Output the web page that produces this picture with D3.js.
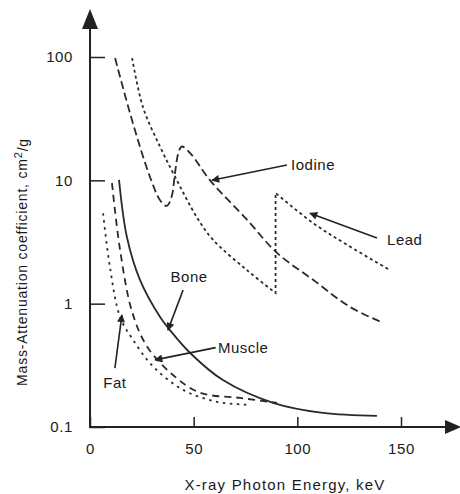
<!DOCTYPE html>
<html>
<head>
<meta charset="utf-8">
<script src="https://cdn.jsdelivr.net/npm/d3@7"></script>
<style>
  body { margin: 0; background: #fff; }
  svg text { font-family: "Liberation Sans", Arial, sans-serif; fill: #1a1a1a; }
</style>
</head>
<body>
<div id="chart"></div>
<script>
// tick values on both axes
const xTicks = [0, 50, 100, 150];
const yTicks = [0.1, 1, 10, 100];
const yTickLabels = ["0.1", "1", "10", "100"];

// curves: [energy keV, cm2/g]
const iodine = [[12.1, 98], [20.7, 29], [28.9, 10.7], [33.8, 6.9], [37, 6.2], [39.4, 7.4],
  [41, 11.5], [42.6, 16.6], [44.2, 18.8], [48.2, 16.7], [57.9, 10], [75.7, 4.8],
  [90.2, 2.58], [107.6, 1.56], [125.4, 0.94], [141.3, 0.70]];
// lead below and above its K-edge
const leadLow = [[20.3, 98], [25.6, 39], [33.8, 18.7], [41, 10.7], [51.6, 5.0],
  [59.3, 3.3], [75.7, 1.87], [89.5, 1.22]];
const leadHigh = [[89.5, 7.9], [107.6, 4.5], [124, 3.0], [144.7, 1.87]];
const bone = [[14, 10.1], [17.8, 3.47], [24.1, 1.56], [33.8, 0.78], [38.6, 0.61],
  [48.2, 0.40], [64.1, 0.24], [88.3, 0.157], [112.4, 0.130], [138.4, 0.123]];
const muscle = [[10.6, 9.5], [14.5, 2.73], [20.3, 0.86], [27.5, 0.45], [40, 0.264],
  [53, 0.19], [72.4, 0.172], [90.2, 0.157]];
const fat = [[6.3, 5.4], [9.6, 1.99], [14.5, 0.78], [20.7, 0.51], [30.4, 0.31],
  [44.9, 0.20], [61.3, 0.16], [77.2, 0.151]];

// labels and the arrows pointing at the curves
const labels = [
  { text: "Iodine", at: [97, 13.3], anchor: "start", from: [95, 13.3], to: [58.8, 10] },
  { text: "Lead", at: [143.3, 3.3], anchor: "start", from: [138.4, 3.4], to: [106.1, 5.4] },
  { text: "Bone", at: [47.8, 1.65], anchor: "middle", from: [44.9, 1.29], to: [37.6, 0.61] },
  { text: "Muscle", at: [61.7, 0.44], anchor: "start", from: [60.6, 0.44], to: [31.4, 0.35] },
  { text: "Fat", at: [12, 0.227], anchor: "middle", from: [12, 0.30], to: [15.4, 0.81] }
];

const width = 460, height = 494;

const svg = d3.select("#chart").append("svg")
  .attr("width", width)
  .attr("height", height);

const x = d3.scaleLinear().domain([0, 150]).range([90, 401]);
const y = d3.scaleLog().domain([0.1, 100]).range([427, 57]);

svg.append("defs").append("marker")
  .attr("id", "head")
  .attr("viewBox", "0 0 10 10")
  .attr("refX", 9).attr("refY", 5)
  .attr("markerWidth", 7).attr("markerHeight", 5)
  .attr("markerUnits", "strokeWidth")
  .attr("orient", "auto")
  .append("path")
  .attr("d", "M0,0L10,5L0,10Z")
  .attr("fill", "#222");

// axes: ticks point inward, labels outside
const yAxis = svg.append("g")
  .attr("transform", "translate(90,0)")
  .call(d3.axisLeft(y).tickValues(yTicks).tickSizeInner(-15).tickSizeOuter(0)
    .tickPadding(17).tickFormat((d, i) => yTickLabels[i]));
const xAxis = svg.append("g")
  .attr("transform", "translate(0,427)")
  .call(d3.axisBottom(x).tickValues(xTicks).tickSizeInner(-10).tickSizeOuter(0)
    .tickPadding(16));

[yAxis, xAxis].forEach(g => {
  g.select(".domain").remove();
  g.selectAll(".tick line").attr("stroke", "#222").attr("stroke-width", 1.5);
  g.selectAll(".tick text").style("font-size", "15px").style("letter-spacing", "0.6px")
    .attr("fill", "#1a1a1a");
});

// axis lines with arrowheads
svg.append("line").attr("x1", 90).attr("y1", 428).attr("x2", 90).attr("y2", 24)
  .attr("stroke", "#222").attr("stroke-width", 2);
svg.append("path").attr("d", "M90,9L98,29L82,29Z").attr("fill", "#222");
svg.append("line").attr("x1", 89).attr("y1", 427).attr("x2", 448).attr("y2", 427)
  .attr("stroke", "#222").attr("stroke-width", 2);
svg.append("path").attr("d", "M461,427L445,420L445,434Z").attr("fill", "#222");

// curves
const line = d3.line()
  .x(d => x(d[0]))
  .y(d => y(d[1]))
  .curve(d3.curveCatmullRom.alpha(0.5));

const series = [
  { data: iodine, dash: "8,4" },
  { data: leadLow.concat(leadHigh), dash: "3,3", curve: "lead" },
  { data: bone, dash: null },
  { data: muscle, dash: "7,5" },
  { data: fat, dash: "2.5,4.5" }
];

// lead: smooth pieces joined by the straight K-edge jump
function leadPath() {
  const p = d3.path();
  const low = line(leadLow);
  const high = line(leadHigh);
  return low + "L" + high.slice(1);
}

svg.selectAll(".curve")
  .data(series)
  .enter().append("path")
  .attr("class", "curve")
  .attr("d", d => d.curve === "lead" ? leadPath() : line(d.data))
  .attr("fill", "none")
  .attr("stroke", "#2a2a2a")
  .attr("stroke-width", 1.8)
  .attr("stroke-dasharray", d => d.dash);

// annotations
svg.selectAll(".pointer")
  .data(labels)
  .enter().append("line")
  .attr("class", "pointer")
  .attr("x1", d => x(d.from[0])).attr("y1", d => y(d.from[1]))
  .attr("x2", d => x(d.to[0])).attr("y2", d => y(d.to[1]))
  .attr("stroke", "#222")
  .attr("stroke-width", 1.6)
  .attr("marker-end", "url(#head)");

svg.selectAll(".label")
  .data(labels)
  .enter().append("text")
  .attr("class", "label")
  .attr("x", d => x(d.at[0]))
  .attr("y", d => y(d.at[1]))
  .attr("dy", "0.35em")
  .attr("text-anchor", d => d.anchor)
  .style("font-size", "15px")
  .style("letter-spacing", "0.5px")
  .text(d => d.text);

// axis titles
svg.append("text")
  .attr("x", 285).attr("y", 490)
  .attr("text-anchor", "middle")
  .style("font-size", "15px")
  .style("letter-spacing", "1.2px")
  .text("X-ray Photon Energy, keV");

const yTitle = svg.append("text")
  .attr("transform", "translate(27,262) rotate(-90)")
  .attr("text-anchor", "middle")
  .style("font-size", "14px")
  .style("letter-spacing", "0.8px");
yTitle.append("tspan").text("Mass-Attenuation coefficient, cm");
yTitle.append("tspan").attr("dy", "-0.45em").style("font-size", "11px").text("2");
yTitle.append("tspan").attr("dy", "0.45em").text("/g");
</script>
</body>
</html>
